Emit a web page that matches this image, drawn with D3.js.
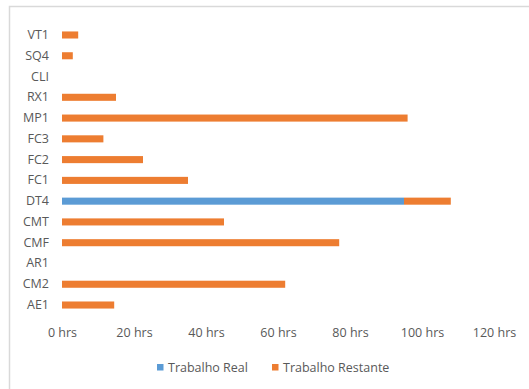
<!DOCTYPE html>
<html>
<head>
<meta charset="utf-8">
<script src="https://cdn.jsdelivr.net/npm/d3@7"></script>
<style>
  html, body { margin: 0; padding: 0; background: #fff; }
  svg { display: block; }
  text { font-family: "Open Sans", "Noto Sans", sans-serif; fill: #595959; }
</style>
</head>
<body>
<svg id="chart" width="529" height="389"></svg>
<script>
// Tasks listed top to bottom
const categories = ["VT1", "SQ4", "CLI", "RX1", "MP1", "FC3", "FC2", "FC1", "DT4", "CMT", "CMF", "AR1", "CM2", "AE1"];
// Hours already worked per task
const trabalhoReal = [0, 0, 0, 0, 0, 0, 0, 0, 95, 0, 0, 0, 0, 0];
// Hours still remaining per task
const trabalhoRestante = [4.5, 3, 0, 15, 96, 11.5, 22.5, 35, 13, 45, 77, 0, 62, 14.5];
const tickValues = [0, 20, 40, 60, 80, 100, 120];
const seriesNames = ["Trabalho Real", "Trabalho Restante"];
const colors = ["#5B9BD5", "#ED7D31"];

const fontSize = 12.5;
const svg = d3.select("#chart");

// Chart frame (only the top and left edges fall inside the view)
svg.append("rect")
  .attr("x", 9.5).attr("y", 6.5)
  .attr("width", 560).attr("height", 420)
  .attr("fill", "none")
  .attr("stroke", "#d9d9d9")
  .attr("stroke-width", 1.5);

const x = d3.scaleLinear().domain([0, 120]).range([62, 494]);
const y = d3.scaleBand().domain(categories).range([24.6, 315.4]).paddingInner(0.66).paddingOuter(0.33);

const rows = categories.map((c, i) => ({ cat: c, real: trabalhoReal[i], rest: trabalhoRestante[i] }));
const stacked = d3.stack().keys(["real", "rest"])(rows);

svg.append("g").selectAll("g")
  .data(stacked)
  .join("g")
  .attr("fill", (d, i) => colors[i])
  .selectAll("rect")
  .data(d => d.filter(s => s[1] - s[0] > 0))
  .join("rect")
  .attr("x", d => x(d[0]))
  .attr("width", d => x(d[1]) - x(d[0]))
  .attr("y", d => y(d.data.cat))
  .attr("height", y.bandwidth());

// Category axis (labels only)
const yAxis = svg.append("g")
  .attr("transform", "translate(62,0)")
  .call(d3.axisLeft(y).tickSize(0).tickPadding(13));
yAxis.select(".domain").remove();
yAxis.selectAll("text").attr("font-size", fontSize);

// Value axis (labels only)
const xAxis = svg.append("g")
  .attr("transform", "translate(0,328)")
  .call(d3.axisBottom(x).tickValues(tickValues).tickSize(0).tickPadding(0).tickFormat(d => d + " hrs"));
xAxis.select(".domain").remove();
xAxis.selectAll("text").attr("font-size", fontSize);
svg.selectAll(".tick text").attr("fill", "#595959");
svg.selectAll("g[font-family]").attr("font-family", null);

// Legend
const legendX = [157, 272];
const legend = svg.append("g");
seriesNames.forEach((name, i) => {
  const g = legend.append("g").attr("transform", `translate(${legendX[i]},364)`);
  g.append("rect").attr("width", 6.5).attr("height", 6.5).attr("fill", colors[i]);
  g.append("text").attr("x", 11).attr("y", 7.8).attr("font-size", fontSize).text(name);
});
</script>
</body>
</html>
